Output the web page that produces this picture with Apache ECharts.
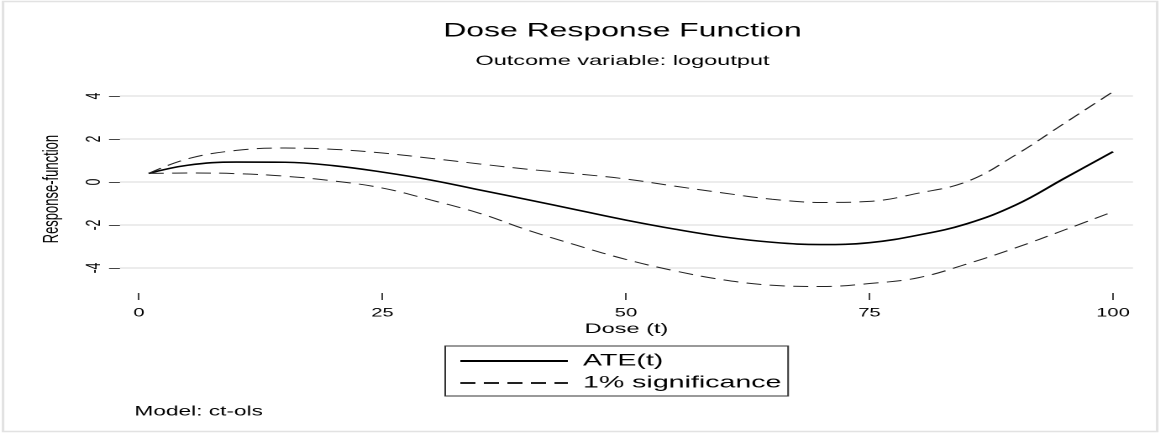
<!DOCTYPE html>
<html>
<head>
<meta charset="utf-8">
<title>Dose Response Function</title>
<script src="https://cdn.jsdelivr.net/npm/echarts@6/dist/echarts.min.js"></script>
<style>
  html, body { margin: 0; padding: 0; background: #fff; overflow: hidden; }
  /* the reference is a Stata graph stretched sideways, so draw narrow and stretch */
  #chart { width: 691px; height: 434px; transform: scaleX(1.68); transform-origin: 0 0; }
</style>
</head>
<body>
<div id="chart"></div>
<script>
// dose levels
const doseT = [1, 5, 10, 15, 20, 25, 30, 35, 40, 45, 50, 55, 60, 65, 70, 75, 80, 85, 90, 95, 100]
// ATE(t)
const ate = [0.40, 0.78, 0.93, 0.92, 0.76, 0.46, 0.09, -0.37, -0.83, -1.30, -1.77, -2.19, -2.55, -2.80, -2.91, -2.82, -2.47, -1.94, -1.07, 0.17, 1.41]
// 1% significance band
const upper = [0.40, 1.08, 1.47, 1.58, 1.52, 1.35, 1.10, 0.84, 0.59, 0.38, 0.14, -0.19, -0.51, -0.80, -0.95, -0.90, -0.52, 0.02, 1.26, 2.73, 4.20]
const lower = [0.40, 0.42, 0.39, 0.27, 0.05, -0.28, -0.84, -1.46, -2.25, -2.95, -3.60, -4.13, -4.55, -4.80, -4.86, -4.72, -4.45, -3.81, -3.06, -2.23, -1.38]

const xTicks = [0, 25, 50, 75, 100]
const yTicks = [-4, -2, 0, 2, 4]

const pairs = (vals) => doseT.map((t, i) => [t, vals[i]])

const chart = echarts.init(document.getElementById('chart'), null, { devicePixelRatio: 2 })

const font = 'Liberation Sans, Arial, Helvetica, sans-serif'

const option = {
  animation: false,
  textStyle: { fontFamily: font, color: '#000' },
  title: [
    {
      text: 'Dose Response Function',
      subtext: 'Outcome variable: logoutput',
      left: 365.5,
      top: 17,
      textAlign: 'center',
      itemGap: 13,
      textStyle: { fontSize: 19, fontWeight: 'normal', color: '#000', fontFamily: font },
      subtextStyle: { fontSize: 14, color: '#000', fontFamily: font }
    },
    {
      text: 'Model: ct-ols',
      left: 75,
      top: 400,
      textStyle: { fontSize: 13.5, fontWeight: 'normal', color: '#000', fontFamily: font }
    }
  ],
  graphic: [
    {
      type: 'rect',
      shape: { x: 1.8, y: 1.5, width: 687, height: 430 },
      style: { fill: 'none', stroke: '#e2e2e2', lineWidth: 1.5 },
      silent: true,
      z: -1
    }
  ],
  legend: {
    orient: 'vertical',
    left: 265,
    top: 346,
    padding: [5, 4, 3, 8],
    itemWidth: 64,
    itemHeight: 14,
    itemGap: 2,
    borderColor: '#333',
    borderWidth: 1,
    borderRadius: 0,
    itemStyle: { color: 'rgba(0,0,0,0)', borderWidth: 0 },
    textStyle: { fontSize: 17, color: '#000', fontFamily: font, lineHeight: 20, padding: [0, 0, 0, 4] },
    data: ['ATE(t)', '1% significance']
  },
  grid: { left: 71.4, right: 16.6, top: 85.25, bottom: 141 },
  xAxis: {
    type: 'value',
    min: -1.95,
    max: 102.05,
    name: 'Dose (t)',
    nameLocation: 'middle',
    nameGap: 29,
    nameTextStyle: { fontSize: 14, color: '#000', fontFamily: font },
    axisLine: { show: false, onZero: false },
    axisTick: { show: true, length: 7, customValues: xTicks, lineStyle: { color: '#444', width: 1 } },
    axisLabel: { customValues: xTicks, fontSize: 12, color: '#000', margin: 14 },
    splitLine: { show: false }
  },
  yAxis: {
    type: 'value',
    min: -5.16,
    max: 4.5,
    name: 'Response-function',
    nameLocation: 'middle',
    nameGap: 34,
    nameTextStyle: { fontSize: 13, color: '#000', fontFamily: font },
    axisLine: { show: false, onZero: false },
    axisTick: { show: true, length: 6.5, customValues: yTicks, lineStyle: { color: '#444', width: 1 } },
    axisLabel: { customValues: yTicks, rotate: 90, fontSize: 12, color: '#000', margin: 9 },
    splitLine: { show: true, lineStyle: { color: '#e6e6e6', width: 1.5 } }
  },
  series: [
    {
      name: 'ATE(t)',
      type: 'line',
      data: pairs(ate),
      smooth: 0.4,
      symbol: 'none',
      itemStyle: { color: '#000' },
      lineStyle: { color: '#000', width: 1.6, type: 'solid' },
      z: 3
    },
    {
      name: '1% significance',
      type: 'line',
      data: pairs(upper),
      smooth: 0.4,
      symbol: 'none',
      itemStyle: { color: '#222' },
      lineStyle: { color: '#222', width: 1, type: [9, 5] }
    },
    {
      name: '1% significance',
      type: 'line',
      data: pairs(lower),
      smooth: 0.4,
      symbol: 'none',
      itemStyle: { color: '#222' },
      lineStyle: { color: '#222', width: 1, type: [9, 5] }
    }
  ]
}

chart.setOption(option)
</script>
</body>
</html>
